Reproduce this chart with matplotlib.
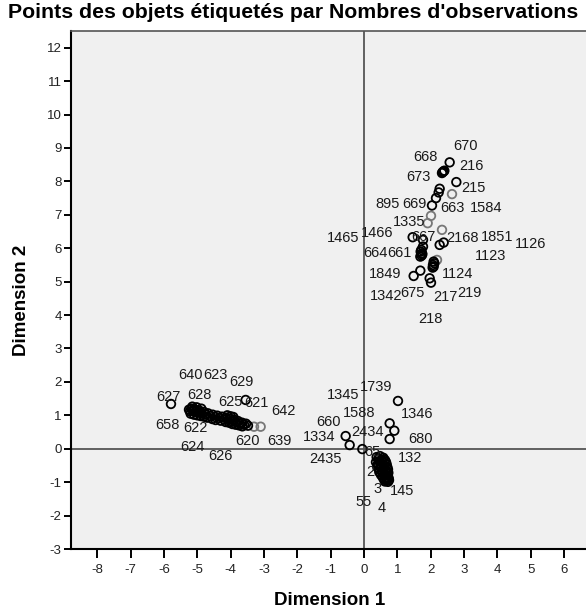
import numpy as np
import matplotlib
matplotlib.use("Agg")
import matplotlib.pyplot as plt

plt.rcParams['font.family'] = ['Liberation Sans', 'DejaVu Sans']
plt.rcParams['axes.unicode_minus'] = False

# object points (dimension 1, dimension 2)
upper_x = [2.57, 2.39, 2.34, 2.36, 2.41, 2.77, 2.27, 2.24, 2.16, 2.04, 1.46, 1.77, 1.77,
           1.74, 1.70, 1.75, 1.69, 1.73, 2.27, 2.39, 2.09, 2.09, 2.06, 2.11, 1.69, 1.49,
           1.97, 2.01, 1.72, 2.07]
upper_y = [8.57, 8.30, 8.25, 8.28, 8.32, 7.98, 7.78, 7.67, 7.50, 7.28, 6.33, 6.25, 6.05,
           5.85, 5.90, 5.82, 5.75, 5.78, 6.10, 6.17, 5.60, 5.45, 5.42, 5.55, 5.33, 5.17,
           5.10, 4.97, 5.95, 5.50]
faint_x = [2.64, 2.01, 1.91, 2.34, 2.19, -3.30, -3.10]
faint_y = [7.62, 6.97, 6.75, 6.55, 5.65, 0.66, 0.66]

left_x = [-5.79, -3.55, -5.25, -5.22, -5.18, -5.12, -5.08, -5.05, -5.00, -4.95, -4.92,
          -4.86, -4.80, -4.74, -4.68, -4.60, -4.54, -4.46, -4.40, -4.34, -4.26, -4.20,
          -4.14, -4.08, -4.02, -3.96, -3.90, -3.84, -3.78, -3.72, -3.66, -3.60, -3.54,
          -3.48, -5.20, -5.10, -5.00, -4.90, -4.80, -4.70, -4.55, -4.45, -4.30, -4.15,
          -4.05, -3.95, -3.85, -3.75, -3.65, -5.15, -5.02, -4.88, -4.10, -4.00, -3.92]
left_y = [1.34, 1.46, 1.17, 1.12, 1.20, 1.14, 1.18, 1.10, 1.15, 1.08, 1.13, 1.05, 1.10,
          1.02, 1.06, 0.98, 1.02, 0.95, 0.99, 0.92, 0.96, 0.88, 0.93, 0.86, 0.90, 0.82,
          0.87, 0.79, 0.83, 0.75, 0.78, 0.72, 0.75, 0.69, 1.05, 1.02, 1.00, 0.98, 0.96,
          0.93, 0.89, 0.86, 0.84, 0.80, 0.78, 0.74, 0.72, 0.70, 0.67, 1.26, 1.24, 1.20,
          1.00, 0.97, 0.95]

mid_x = [1.02, 0.77, 0.91, 0.77, -0.55, -0.43, -0.05, 0.38, 0.48, 0.58, 0.36, 0.46, 0.56,
         0.66, 0.40, 0.50, 0.60, 0.70, 0.46, 0.56, 0.66, 0.73, 0.56, 0.66, 0.74, 0.68, 0.75,
         0.43, 0.53, 0.63, 0.41, 0.51, 0.61, 0.68, 0.45, 0.55, 0.65, 0.72, 0.51, 0.61, 0.70,
         0.60, 0.70, 0.63, 0.72]
mid_y = [1.43, 0.76, 0.54, 0.29, 0.38, 0.11, -0.01, -0.25, -0.22, -0.27, -0.40, -0.38,
         -0.42, -0.40, -0.55, -0.55, -0.58, -0.55, -0.70, -0.72, -0.70, -0.72, -0.85,
         -0.86, -0.88, -0.95, -0.94, -0.30, -0.32, -0.34, -0.47, -0.48, -0.50, -0.47,
         -0.62, -0.64, -0.63, -0.62, -0.78, -0.79, -0.80, -0.92, -0.91, -0.98, -0.99]

# case number labels and where they sit
lab_text = ["670", "668", "216", "673", "215", "895", "669", "663", "1584", "1335", "1466",
            "1465", "667", "2168", "1851", "1126", "664", "661", "1123", "1849", "1124",
            "1342", "675", "217", "219", "218",
            "640", "623", "629", "627", "628", "625", "621", "642", "658", "622", "620",
            "639", "624", "626",
            "1345", "1739", "1346", "660", "1588", "1334", "2434", "680", "2435", "132",
            "65", "2", "3", "145", "55", "4"]
lab_x = [3.06, 1.84, 3.22, 1.64, 3.27, 0.72, 1.51, 2.66, 3.67, 1.34, 0.40, -0.64, 1.79,
         2.96, 3.98, 4.99, 0.34, 1.06, 3.81, 0.62, 2.82, 0.65, 1.46, 2.44, 3.17, 1.99,
         -5.21, -4.45, -3.67, -5.87, -4.95, -4.00, -3.22, -2.42, -5.89, -5.07, -3.48,
         -2.53, -5.14, -4.30,
         -0.63, 0.37, 1.59, -1.05, -0.16, -1.36, 0.10, 1.69, -1.15, 1.37, 0.25, 0.19,
         0.41, 1.14, -0.02, 0.52]
lab_y = [9.05, 8.72, 8.47, 8.13, 7.80, 7.33, 7.33, 7.20, 7.20, 6.80, 6.46, 6.31, 6.33,
         6.30, 6.33, 6.13, 5.85, 5.86, 5.77, 5.23, 5.23, 4.57, 4.66, 4.55, 4.67, 3.89,
         2.21, 2.21, 2.01, 1.54, 1.61, 1.41, 1.36, 1.14, 0.71, 0.61, 0.24, 0.23, 0.06,
         -0.22,
         1.61, 1.86, 1.03, 0.81, 1.06, 0.35, 0.51, 0.29, -0.31, -0.28, -0.09, -0.69,
         -1.20, -1.25, -1.60, -1.78]

x_ticks = list(range(-8, 7))
y_ticks = list(range(-3, 13))

fig = plt.figure(figsize=(5.86, 6.13), dpi=100)
ax = fig.add_axes([0.1217, 0.1044, 0.8783, 0.845])
ax.set_facecolor('#f0f0f0')

ax.axvline(0, color='#555555', lw=1.3, zorder=1)
ax.axhline(0, color='#555555', lw=1.3, zorder=1)

ax.scatter(faint_x, faint_y, s=38, facecolors='none', edgecolors='#777777', linewidths=1.3, zorder=2)
for xs, ys in [(upper_x, upper_y), (left_x, left_y), (mid_x, mid_y)]:
    ax.scatter(xs, ys, s=38, facecolors='none', edgecolors='black', linewidths=1.3, zorder=3)

for t, x, y in zip(lab_text, lab_x, lab_y):
    ax.text(x, y, t, fontsize=10.5, color='#1a1a1a', ha='center', va='center', zorder=4)

ax.set_xlim(-8.78, 6.66)
ax.set_ylim(-3, 12.5)
ax.set_xticks(x_ticks)
ax.set_yticks(y_ticks)
ax.tick_params(axis='x', length=6.5, width=1.4, pad=4, labelsize=9.5, labelcolor='#222222')
ax.tick_params(axis='y', length=5, width=1.4, pad=2, labelsize=9.5, labelcolor='#222222')

ax.spines['right'].set_visible(False)
ax.spines['top'].set_color('#555555')
ax.spines['top'].set_linewidth(1.2)
ax.spines['left'].set_linewidth(1.5)
ax.spines['bottom'].set_linewidth(1.5)

fig.text(0.5, 0.979, "Points des objets étiquetés par Nombres d'observations",
         ha='center', va='center', fontsize=15.3, fontweight='bold')
fig.text(0.563, 0.0196, "Dimension 1", ha='center', va='center', fontsize=13.5, fontweight='bold')
fig.text(0.0375, 0.51, "Dimension 2", ha='center', va='center', fontsize=13.5,
         fontweight='bold', rotation=90)

fig.savefig("out.png", dpi=100)
